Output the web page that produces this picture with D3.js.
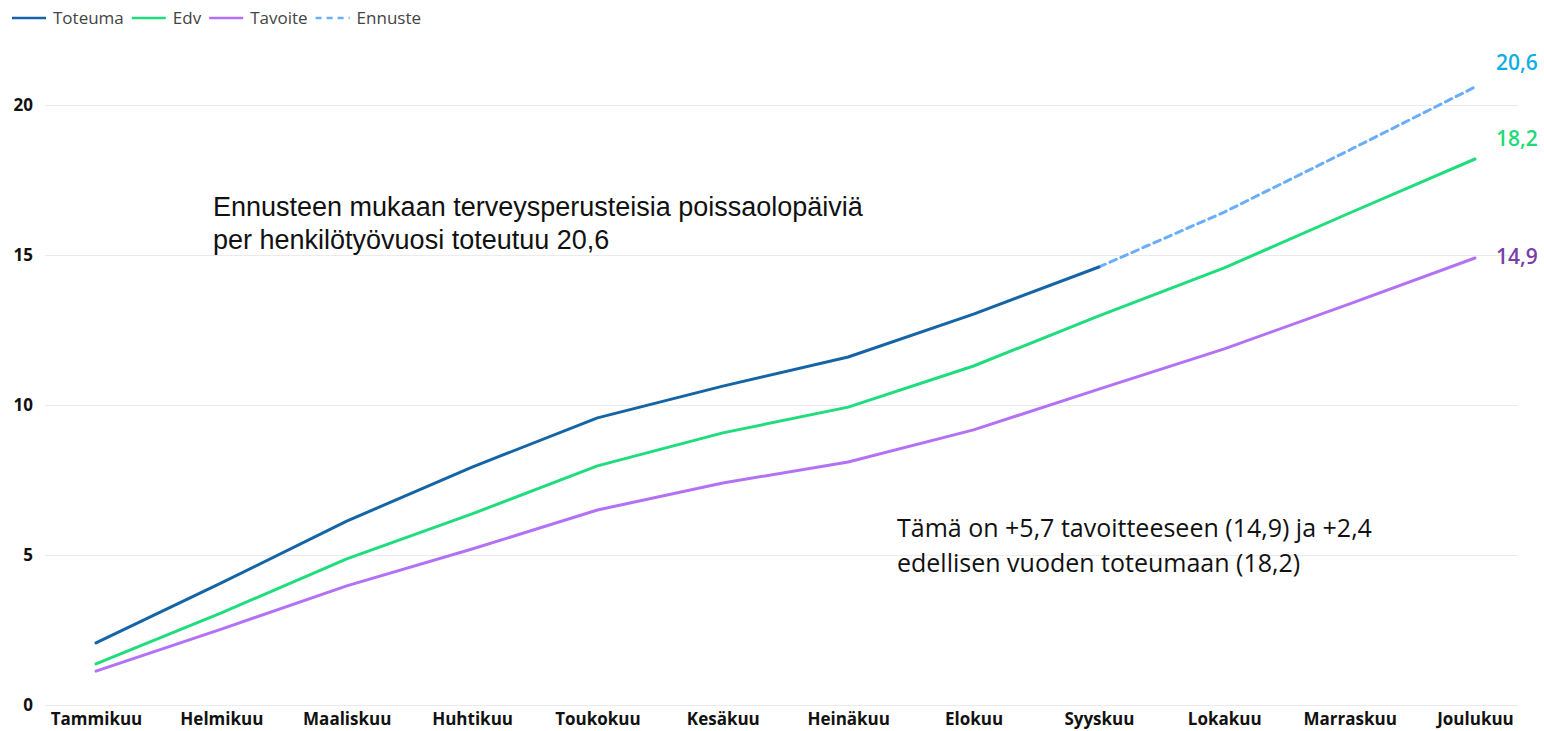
<!DOCTYPE html>
<html>
<head>
<meta charset="utf-8">
<script src="https://cdn.jsdelivr.net/npm/d3@7"></script>
<style>
  body { margin: 0; background: #fff; }
  svg { display: block; }
  .legendText { font-family: "Open Sans", sans-serif; font-size: 17px; fill: #444; }
  .tick text { font-family: "Open Sans", sans-serif; font-weight: 700; font-size: 17px; fill: #111; }
  .note { font-family: "Liberation Sans", Arial, sans-serif; font-size: 27px; fill: #111; }
  .note2 { font-family: "Open Sans", sans-serif; font-size: 25px; fill: #111; }
  .endLabel { font-family: "Open Sans", sans-serif; font-weight: 600; font-size: 21px; }
</style>
</head>
<body>
<svg width="1544" height="731"></svg>
<script>
// Months
const months = ["Tammikuu", "Helmikuu", "Maaliskuu", "Huhtikuu", "Toukokuu", "Kesäkuu",
  "Heinäkuu", "Elokuu", "Syyskuu", "Lokakuu", "Marraskuu", "Joulukuu"];

// Series values (null = no value)
const toteuma = [2.07, 4.07, 6.13, 7.93, 9.57, 10.63, 11.6, 13.03, 14.6, null, null, null];
const edv = [1.37, 3.07, 4.87, 6.37, 7.97, 9.07, 9.93, 11.3, 12.97, 14.57, 16.4, 18.2];
const tavoite = [1.13, 2.53, 3.97, 5.2, 6.5, 7.4, 8.1, 9.17, 10.53, 11.87, 13.37, 14.9];
const ennuste = [null, null, null, null, null, null, null, null, 14.6, 16.43, 18.5, 20.6];

const yTicks = [0, 5, 10, 15, 20];

const svg = d3.select('svg');

let margin = { top: 105, bottom: 26, left: 45, right: 26 };

// X Scale
let xScale = d3.scalePoint()
  .domain(months)
  .range([96, 1475]);

// Y Scale
let yScale = d3.scaleLinear()
  .domain([0, 20])
  .range([705, 105]);

// Gridlines + y labels
let yAxis = d3.axisLeft(yScale)
  .tickValues(yTicks)
  .tickSize(-(1518 - margin.left))
  .tickPadding(12);

svg.append('g')
  .attr('id', 'y-axis')
  .attr('transform', `translate(${margin.left},0)`)
  .call(yAxis)
  .call(g => g.select('.domain').remove())
  .call(g => g.selectAll('.tick line').attr('stroke', '#ebebeb').attr('stroke-width', 1.2));

// X axis labels
let xAxis = d3.axisBottom(xScale).tickSize(0).tickPadding(8);
svg.append('g')
  .attr('id', 'x-axis')
  .attr('transform', `translate(0,705)`)
  .call(xAxis)
  .call(g => g.select('.domain').remove());

// Lines
let line = d3.line()
  .defined(d => d.v !== null)
  .x(d => xScale(d.m))
  .y(d => yScale(d.v));

let series = [
  { name: "Tavoite", values: tavoite, color: "#b372f5", dash: null },
  { name: "Edv", values: edv, color: "#1fdd7c", dash: null },
  { name: "Ennuste", values: ennuste, color: "#6aaefb", dash: "7,5" },
  { name: "Toteuma", values: toteuma, color: "#1565a6", dash: null }
];

series.forEach(s => {
  svg.append('path')
    .datum(s.values.map((v, i) => ({ m: months[i], v: v })))
    .attr('fill', 'none')
    .attr('stroke', s.color)
    .attr('stroke-width', 3)
    .attr('stroke-linecap', 'round')
    .attr('stroke-linejoin', 'round')
    .attr('stroke-dasharray', s.dash)
    .attr('d', line);
});

// End labels
let endLabels = [
  { v: ennuste[11], text: "20,6", color: "#10aee6", dy: -17 },
  { v: edv[11], text: "18,2", color: "#1fd97a", dy: -13 },
  { v: tavoite[11], text: "14,9", color: "#7a3ea6", dy: 6 }
];
svg.selectAll('.endLabel')
  .data(endLabels)
  .enter()
  .append('text')
  .attr('class', 'endLabel')
  .attr('x', 1496)
  .attr('y', d => yScale(d.v) + d.dy)
  .attr('fill', d => d.color)
  .text(d => d.text);

// Annotations
let note1 = svg.append('text').attr('class', 'note');
note1.append('tspan').attr('x', 213).attr('y', 216).text("Ennusteen mukaan terveysperusteisia poissaolopäiviä");
note1.append('tspan').attr('x', 213).attr('y', 249).text("per henkilötyövuosi toteutuu 20,6");

let note2 = svg.append('text').attr('class', 'note2');
note2.append('tspan').attr('x', 897).attr('y', 537).text("Tämä on +5,7 tavoitteeseen (14,9) ja +2,4");
note2.append('tspan').attr('x', 897).attr('y', 572).text("edellisen vuoden toteumaan (18,2)");

// Legend
let legendData = [
  { text: "Toteuma", color: "#1565a6", dash: null },
  { text: "Edv", color: "#1fdd7c", dash: null },
  { text: "Tavoite", color: "#b372f5", dash: null },
  { text: "Ennuste", color: "#6aaefb", dash: "6,5" }
];

let legend = svg.append('g').attr('id', 'legend').attr('transform', 'translate(12,18)');
let lx = 0;
legendData.forEach(d => {
  let g = legend.append('g').attr('transform', `translate(${lx},0)`);
  g.append('line')
    .attr('x1', 0).attr('x2', 34)
    .attr('y1', 0).attr('y2', 0)
    .attr('stroke', d.color)
    .attr('stroke-width', 2.5)
    .attr('stroke-dasharray', d.dash);
  let t = g.append('text')
    .attr('class', 'legendText')
    .attr('x', 41)
    .attr('dy', '0.35em')
    .text(d.text);
  lx += 41 + t.node().getComputedTextLength() + 8;
});
</script>
</body>
</html>
